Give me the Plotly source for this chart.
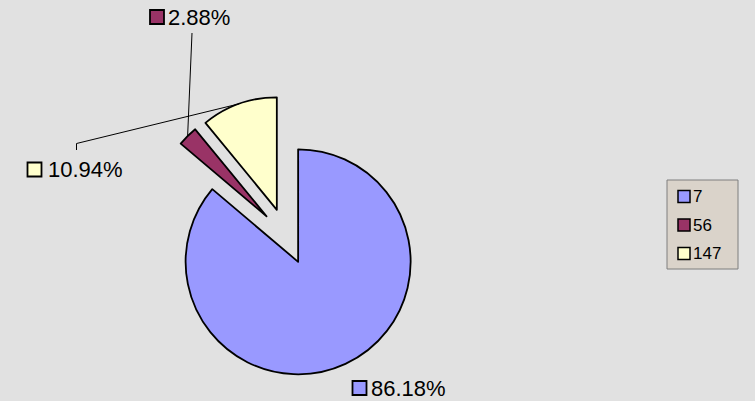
import math
import plotly.graph_objects as go

# ---- data ----
categories = ["7", "56", "147"]
percents = [86.18, 2.88, 10.94]
colors = ["#9999FF", "#993366", "#FFFFCC"]

W, H = 755, 401
FONT = "Arial, Liberation Sans, sans-serif"

# pie geometry (pixels)
cx_px, cy_px = 286.3, 236.3
radius_px = 112.5
pull = 0.25
box = radius_px * (2 + 2 * pull)

def px(x):
    return x / W

def py(y):
    return 1 - y / H

fig = go.Figure()
fig.add_trace(go.Pie(
    labels=categories,
    values=percents,
    sort=False,
    direction="clockwise",
    rotation=0,
    pull=[pull] * len(percents),
    marker=dict(colors=colors, line=dict(color="black", width=1.8)),
    textinfo="none",
    hoverinfo="label+percent",
    showlegend=False,
    domain=dict(
        x=[px(cx_px - box / 2), px(cx_px + box / 2)],
        y=[py(cy_px + box / 2), py(cy_px - box / 2)],
    ),
))

# arc midpoints of exploded slices (computed from data)
total = sum(percents)
mids = []
acc = 0.0
for v in percents:
    a = (acc + v / 2) / total * 2 * math.pi  # clockwise from top
    acc += v
    ox = cx_px + pull * radius_px * math.sin(a)
    oy = cy_px - pull * radius_px * math.cos(a)
    mids.append((ox + radius_px * math.sin(a), oy - radius_px * math.cos(a)))

shapes = []
annotations = []

# data labels: (square left x, center y, text left x)
label_pos = [(352.5, 388, 369), (150, 17, 166), (27.5, 169.5, 46)]
for i, (sx, cyl, tx) in enumerate(label_pos):
    shapes.append(dict(type="rect", xref="paper", yref="paper",
                       x0=px(sx), x1=px(sx + 14), y0=py(cyl + 7), y1=py(cyl - 7),
                       fillcolor=colors[i], line=dict(color="black", width=1.8)))
    annotations.append(dict(xref="paper", yref="paper", x=px(tx), y=py(cyl),
                            xanchor="left", yanchor="middle", showarrow=False,
                            text=f"{percents[i]:.2f}%",
                            font=dict(family=FONT, size=22, color="black")))

# leader lines
mx, my = mids[1]
shapes.append(dict(type="path", xref="paper", yref="paper",
                   path=f"M {px(192)},{py(33)} L {px(mx)},{py(my)}",
                   line=dict(color="black", width=1)))
mx, my = mids[2]
shapes.append(dict(type="path", xref="paper", yref="paper",
                   path=f"M {px(76.5)},{py(150)} L {px(76.5)},{py(143.5)} L {px(mx)},{py(my)}",
                   line=dict(color="black", width=1)))

# legend box
shapes.append(dict(type="rect", xref="paper", yref="paper",
                   x0=px(667), x1=px(738), y0=py(269), y1=py(180),
                   fillcolor="#DAD3CA", line=dict(color="#7F7F7F", width=1)))
rows = [196.5, 225, 253.5]
for i, ry in enumerate(rows):
    shapes.append(dict(type="rect", xref="paper", yref="paper",
                       x0=px(678), x1=px(690), y0=py(ry + 6), y1=py(ry - 6),
                       fillcolor=colors[i], line=dict(color="black", width=1.5)))
    annotations.append(dict(xref="paper", yref="paper", x=px(691), y=py(ry),
                            xanchor="left", yanchor="middle", showarrow=False,
                            text=categories[i],
                            font=dict(family=FONT, size=17, color="black")))

fig.update_layout(
    width=W, height=H,
    margin=dict(l=0, r=0, t=0, b=0),
    paper_bgcolor="#E1E1E1",
    plot_bgcolor="#E1E1E1",
    shapes=shapes,
    annotations=annotations,
    font=dict(family=FONT),
)

fig.write_html(
    "out.html",
    config={"displayModeBar": False},
    post_script="document.body.style.margin='0';document.body.style.padding='0';"
                "document.body.style.overflow='hidden';",
)
